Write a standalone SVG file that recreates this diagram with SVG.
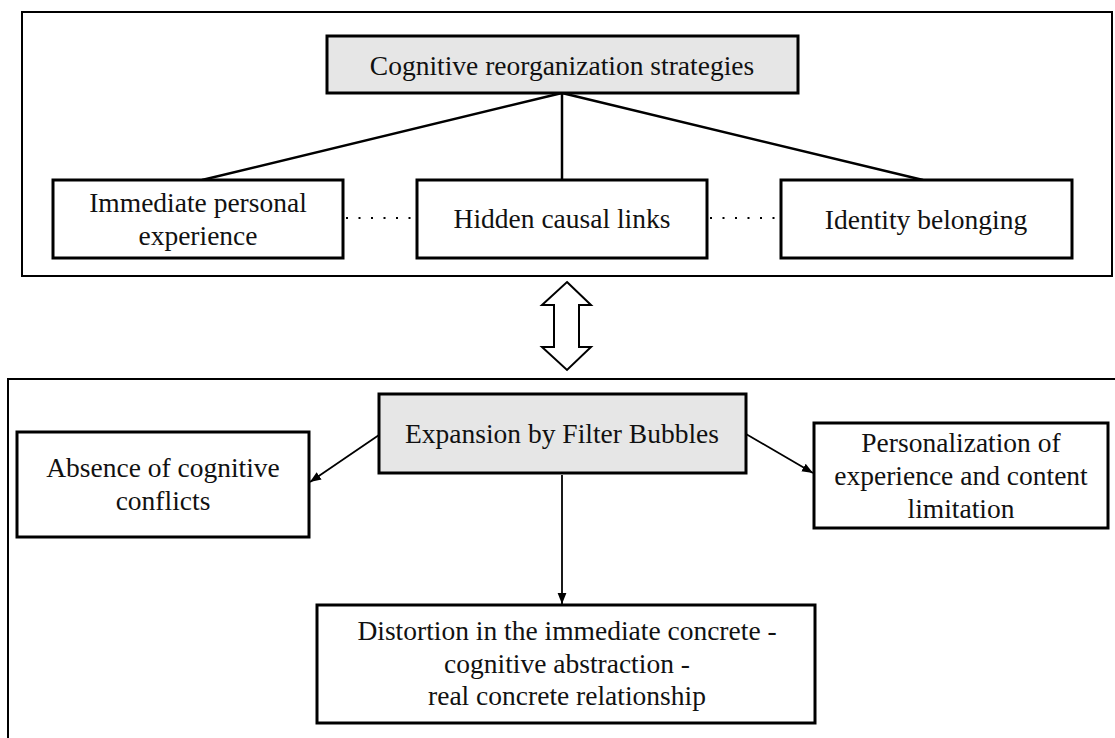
<svg xmlns="http://www.w3.org/2000/svg" width="1115" height="738" viewBox="0 0 1115 738">
<style>
.frame{fill:none;stroke:#000;stroke-width:2}
.box{fill:#fff;stroke:#000;stroke-width:3}
.hbox{fill:#e6e6e6;stroke:#000;stroke-width:3}
.ln{stroke:#000;stroke-width:2.5;fill:none}
.arr{stroke:#000;stroke-width:1.8;fill:none;marker-end:url(#ah)}
.dot{stroke:#000;stroke-width:2;stroke-dasharray:2 10.5;fill:none}
</style>
<defs>
<marker id="ah" viewBox="0 0 10 10" refX="10" refY="5" markerWidth="11" markerHeight="11" markerUnits="userSpaceOnUse" orient="auto">
<path d="M0,1 L10,5 L0,9 Z" fill="#000"/>
</marker>
</defs>
<rect width="1115" height="738" fill="#fff"/>
<g id="frames">
<rect class="frame" x="22" y="12" width="1090" height="264"/>
<rect class="frame" x="8" y="379" width="1120" height="380"/>
</g>
<g id="connectors">
<line class="ln" x1="562" y1="93" x2="202" y2="180"/>
<line class="ln" x1="562" y1="93" x2="562" y2="180"/>
<line class="ln" x1="562" y1="93" x2="923" y2="180"/>
<line class="dot" x1="346" y1="218" x2="417" y2="218"/>
<line class="dot" x1="710" y1="218" x2="781" y2="218"/>
<path d="M567,282 L591,305 L579,305 L579,347 L591,347 L567,370 L542,347 L554,347 L554,305 L542,305 Z" fill="#fff" stroke="#000" stroke-width="2"/>
<line class="arr" x1="379" y1="435" x2="310" y2="482"/>
<line class="arr" x1="746" y1="434" x2="813" y2="473"/>
<line class="arr" x1="562" y1="475" x2="562" y2="604"/>
</g>
<g font-family="Liberation Serif, Times New Roman, serif" font-size="27.5" fill="#111" text-anchor="middle">
<g id="n-cog">
<rect class="hbox" x="327" y="36" width="471" height="57"/>
<text x="562" y="75">Cognitive reorganization strategies</text>
</g>
<g id="n-imm">
<rect class="box" x="53" y="180" width="290" height="78"/>
<text x="198" y="212">Immediate personal</text>
<text x="198" y="245">experience</text>
</g>
<g id="n-hid">
<rect class="box" x="417" y="180" width="290" height="78"/>
<text x="562" y="228">Hidden causal links</text>
</g>
<g id="n-ide">
<rect class="box" x="781" y="180" width="291" height="78"/>
<text x="926" y="229">Identity belonging</text>
</g>
<g id="n-exp">
<rect class="hbox" x="379" y="394" width="367" height="79"/>
<text x="562" y="443">Expansion by Filter Bubbles</text>
</g>
<g id="n-abs">
<rect class="box" x="17" y="432" width="292" height="105"/>
<text x="163" y="477">Absence of cognitive</text>
<text x="163" y="510">conflicts</text>
</g>
<g id="n-per">
<rect class="box" x="814" y="423" width="294" height="105"/>
<text x="961" y="452">Personalization of</text>
<text x="961" y="485">experience and content</text>
<text x="961" y="518">limitation</text>
</g>
<g id="n-dis">
<rect class="box" x="317" y="605" width="498" height="118"/>
<text x="567" y="640">Distortion in the immediate concrete -</text>
<text x="567" y="673">cognitive abstraction -</text>
<text x="567" y="705">real concrete relationship</text>
</g>
</g>
</svg>
